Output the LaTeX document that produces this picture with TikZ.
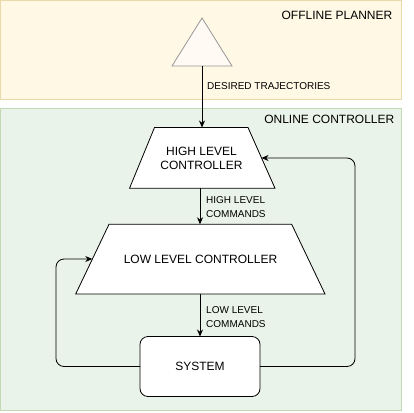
\documentclass[tikz,border=0pt]{standalone}
\usepackage{fontspec}
\setmainfont{Liberation Sans}
\usetikzlibrary{shapes.geometric,arrows.meta}
\definecolor{offfill}{RGB}{255,248,229}
\definecolor{offline}{RGB}{234,218,170}
\definecolor{onfill}{RGB}{234,243,233}
\definecolor{online}{RGB}{192,217,178}
\definecolor{trifill}{RGB}{255,250,243}
\definecolor{tridraw}{RGB}{150,150,150}
\begin{document}
\begin{tikzpicture}[x=1pt,y=-1pt,
  region/.style={draw, line width=0.8pt, anchor=north west, inner sep=0pt, outer sep=0pt},
  regionlabel/.style={anchor=east, font=\fontsize{12}{14}\selectfont, inner sep=0pt},
  trapshape/.style={draw=black, fill=white, line width=0.8pt, line join=miter},
  traptext/.style={align=center, inner sep=0pt, font=\fontsize{12}{13.5}\selectfont},
  sysbox/.style={draw=black, fill=white, line width=0.8pt, rounded corners=8pt, minimum width=120pt, minimum height=60pt, inner sep=0pt, outer sep=0pt, font=\fontsize{12}{14}\selectfont},
  edgelabel/.style={anchor=west, align=left, inner sep=0pt, font=\fontsize{10}{13.5}\selectfont},
  conn/.style={draw=black, line width=0.8pt, -{Stealth[length=7pt,width=6pt]}},
  loopconn/.style={conn, rounded corners=8pt}
]
\useasboundingbox (0,0) rectangle (414,412);
% regions
\node[region, draw=offline, fill=offfill, minimum width=401pt, minimum height=99pt] (offreg) at (0.5,0.5) {};
\node[region, draw=online, fill=onfill, minimum width=401pt, minimum height=302pt] (onreg) at (0.5,108.3) {};
\node[regionlabel] (offlbl) at (392.5,15.5) {OFFLINE PLANNER};
\node[regionlabel] (onlbl) at (394.5,119.5) {ONLINE CONTROLLER};
% triangle
\node[shape=isosceles triangle, shape border rotate=90, isosceles triangle stretches=true, minimum width=60pt, minimum height=48pt, draw=tridraw, fill=trifill, line width=0.8pt, inner sep=0pt, outer sep=0pt, anchor=apex] (plan) at (202,18) {};
% high level controller
\draw[trapshape] (154.5,127.5) -- (248,127.5) -- (275,188.3) -- (129.5,188.3) -- cycle;
\node[traptext] (hlc) at (201.5,158.5) {HIGH LEVEL\\CONTROLLER};
\coordinate (hlctop) at (202,127.5);
\coordinate (hlcbot) at (200,188.3);
\coordinate (hlcright) at (261.5,158);
% low level controller
\draw[trapshape] (109,224.3) -- (291.7,224.3) -- (325,294) -- (75.7,294) -- cycle;
\node[traptext] (llc) at (200.5,259.3) {LOW LEVEL CONTROLLER};
\coordinate (llctop) at (200,224.3);
\coordinate (llcbot) at (200,294);
\coordinate (llcleft) at (92.3,259);
% system
\node[sysbox] (sys) at (200,366.5) {SYSTEM};
% connectors
\draw[conn] (plan.south) -- (hlctop);
\draw[conn] (hlcbot) -- (llctop);
\draw[conn] (llcbot) -- (sys.north);
\draw[loopconn] (sys.west) -| (56,259) -- (llcleft);
\draw[loopconn] (sys.east) -| (355,158) -- (hlcright);
% edge labels
\node[edgelabel] (lbl1) at (207,86) {DESIRED TRAJECTORIES};
\node[edgelabel] (lbl2) at (206,207) {HIGH LEVEL\\COMMANDS};
\node[edgelabel] (lbl3) at (206,317) {LOW LEVEL\\COMMANDS};
\end{tikzpicture}
\end{document}
